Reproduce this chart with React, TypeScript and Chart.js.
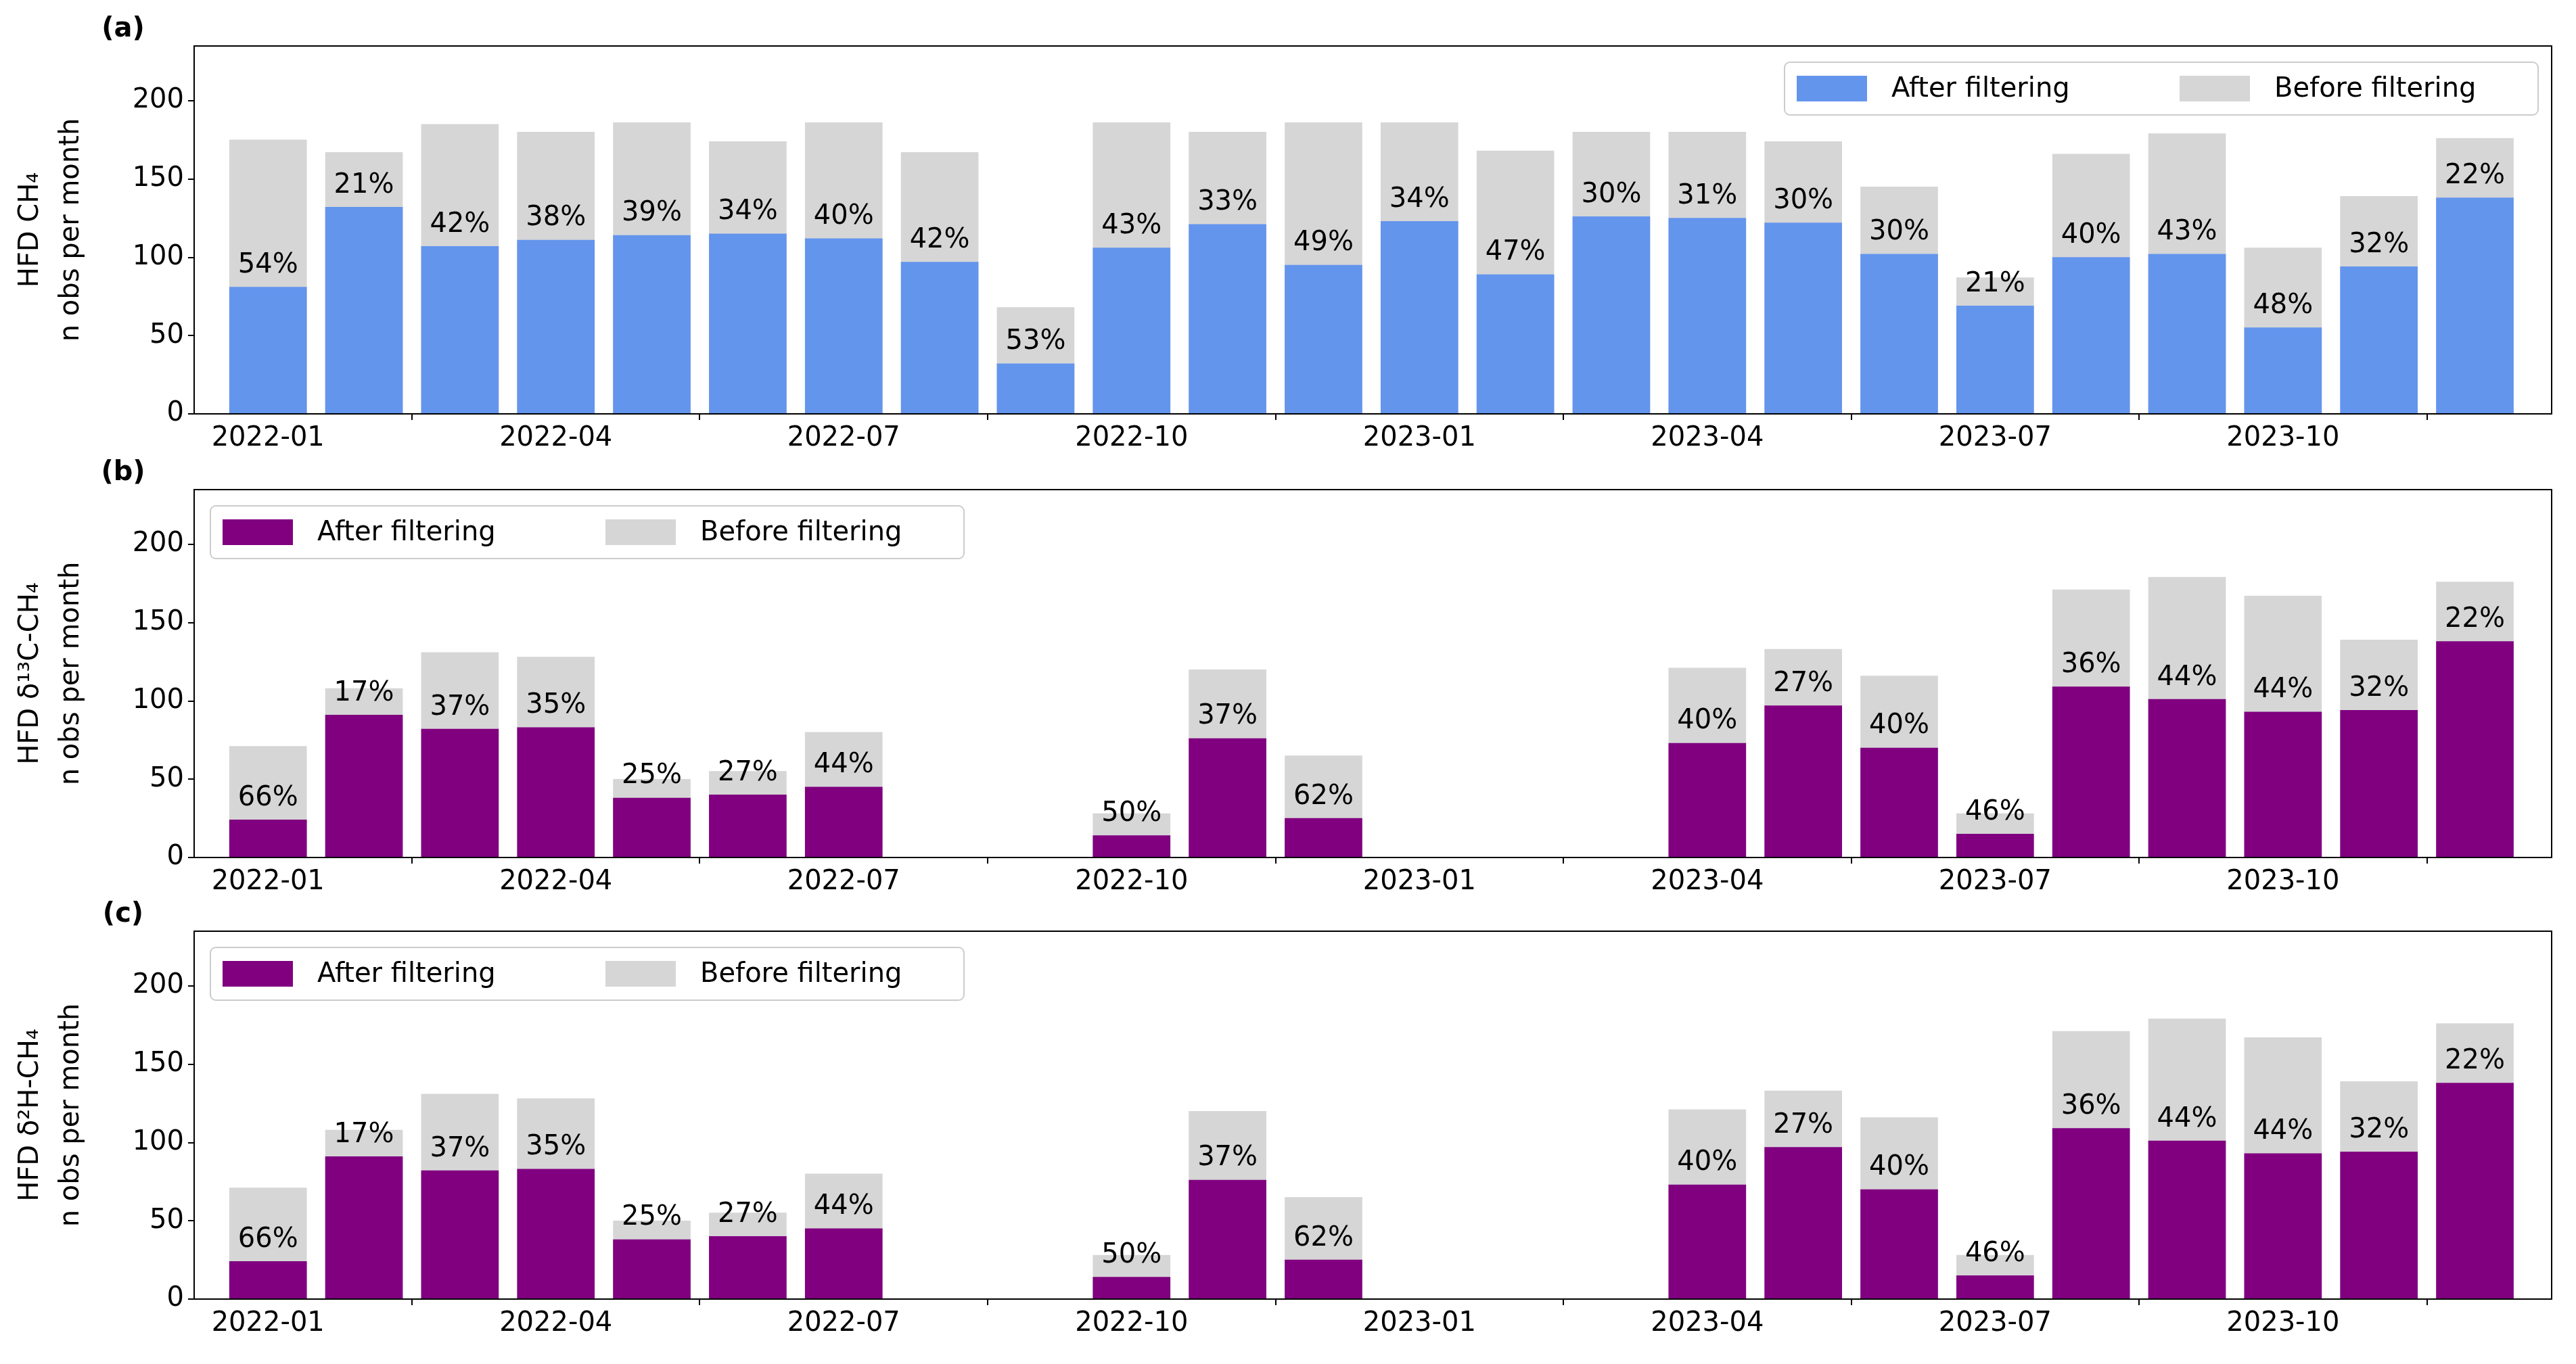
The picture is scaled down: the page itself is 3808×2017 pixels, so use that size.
import React, { useEffect, useRef } from "react";
import { Chart, registerables } from "chart.js";
Chart.register(...registerables);

const months = ["2022-01","2022-02","2022-03","2022-04","2022-05","2022-06","2022-07","2022-08","2022-09","2022-10","2022-11","2022-12","2023-01","2023-02","2023-03","2023-04","2023-05","2023-06","2023-07","2023-08","2023-09","2023-10","2023-11","2023-12"];
const tickIdx = [0, 3, 6, 9, 12, 15, 18, 21];

const beforeA = [175,167,185,180,186,174,186,167,68,186,180,186,186,168,180,180,174,145,87,166,179,106,139,176];
const afterA = [81,132,107,111,114,115,112,97,32,106,121,95,123,89,126,125,122,102,69,100,102,55,94,138];
const pctA = [54,21,42,38,39,34,40,42,53,43,33,49,34,47,30,31,30,30,21,40,43,48,32,22];

const beforeB = [71,108,131,128,50,55,80,0,0,28,120,65,0,0,0,121,133,116,28,171,179,167,139,176];
const afterB = [24,91,82,83,38,40,45,0,0,14,76,25,0,0,0,73,97,70,15,109,101,93,94,138];
const pctB = [66,17,37,35,25,27,44,null,null,50,37,62,null,null,null,40,27,40,46,36,44,44,32,22];

const beforeC = beforeB;
const afterC = afterB;
const pctC = pctB;

const FONT = "DejaVu Sans";
const GRAY = "#d6d6d6";

type Panel = {
  label: string; title: string[]; before: number[]; after: (number)[]; pct: (number | null)[];
  color: string; legendRight: boolean; top: number;
};

const panels: Panel[] = [
  { label: "(a)", title: ["HFD CH₄", "n obs per month"], before: beforeA, after: afterA, pct: pctA, color: "#6495ED", legendRight: true, top: 0 },
  { label: "(b)", title: ["HFD δ¹³C-CH₄", "n obs per month"], before: beforeB, after: afterB, pct: pctB, color: "#800080", legendRight: false, top: 656 },
  { label: "(c)", title: ["HFD δ²H-CH₄", "n obs per month"], before: beforeC, after: afterC, pct: pctC, color: "#800080", legendRight: false, top: 1309 },
];

function PanelChart({ p }: { p: Panel }) {
  const ref = useRef<HTMLCanvasElement>(null);
  useEffect(() => {
    const deco = {
      id: "deco",
      afterDatasetsDraw(chart: any) {
        const ctx = chart.ctx;
        const a = chart.chartArea;
        const xs = chart.scales.x, ys = chart.scales.y;
        ctx.save();
        ctx.fillStyle = "#000";
        ctx.font = `40px "${FONT}"`;
        ctx.textAlign = "center";
        ctx.textBaseline = "bottom";
        p.pct.forEach((v, i) => {
          if (v == null) return;
          ctx.fillText(v + "%", xs.getPixelForValue(i), ys.getPixelForValue(p.after[i]) - 12);
        });
        ctx.strokeStyle = "#000";
        ctx.lineWidth = 2;
        ctx.strokeRect(a.left, a.top, a.right - a.left, a.bottom - a.top);
        // panel label
        ctx.font = `bold 40px "${FONT}"`;
        ctx.textAlign = "center";
        ctx.textBaseline = "middle";
        ctx.fillText(p.label, 182, 44);
        // legend
        const w = 1114, h = 78;
        const bx = p.legendRight ? a.right - 20 - w : a.left + 24;
        const by = a.top + 24;
        ctx.fillStyle = "rgba(255,255,255,0.8)";
        ctx.strokeStyle = "#cccccc";
        ctx.lineWidth = 2;
        ctx.beginPath();
        (ctx as any).roundRect(bx, by, w, h, 8);
        ctx.fill();
        ctx.stroke();
        ctx.font = `40px "${FONT}"`;
        ctx.textAlign = "left";
        ctx.fillStyle = p.color;
        ctx.fillRect(bx + 18, by + 20, 104, 38);
        ctx.fillStyle = GRAY;
        ctx.fillRect(bx + 584, by + 20, 104, 38);
        ctx.fillStyle = "#000";
        ctx.fillText("After filtering", bx + 158, by + h / 2 + 2);
        ctx.fillText("Before filtering", bx + 724, by + h / 2 + 2);
        ctx.restore();
      },
    };
    const chart = new Chart(ref.current!, {
      type: "bar",
      data: {
        datasets: [
          { label: "After filtering", data: p.after.map((y, i) => ({ x: i, y })), backgroundColor: p.color, order: 0, barThickness: 114 } as any,
          { label: "Before filtering", data: p.before.map((y, i) => ({ x: i, y })), backgroundColor: GRAY, order: 1, barThickness: 114 } as any,
        ],
      },
      options: {
        responsive: false,
        animation: false,
        devicePixelRatio: 1,
        layout: { padding: { top: 68, left: 14, right: 36, bottom: 0 } },
        plugins: { legend: { display: false }, tooltip: { enabled: false } },
        datasets: { bar: { grouped: false } as any },
        scales: {
          x: {
            type: "linear", min: -0.77, max: 23.8, offset: false,
            afterBuildTicks: (s: any) => { s.ticks = tickIdx.map((v) => ({ value: v })); },
            afterFit: (s: any) => { s.height = 60; },
            ticks: { font: { family: FONT, size: 40 }, color: "#000", maxRotation: 0, autoSkip: false, padding: 4,
              callback: (v: any) => months[v as number] ?? "" },
            grid: { drawOnChartArea: false, tickLength: 9, color: "#000", lineWidth: 2 },
            border: { display: false },
          },
          y: {
            min: 0, max: 235,
            afterBuildTicks: (s: any) => { s.ticks = [0, 50, 100, 150, 200].map((v) => ({ value: v })); },
            afterFit: (s: any) => { s.width = 273; },
            ticks: { font: { family: FONT, size: 40 }, color: "#000", padding: 6 },
            grid: { drawOnChartArea: false, tickLength: 9, color: "#000", lineWidth: 2 },
            border: { display: false },
            title: { display: true, text: p.title, font: { family: FONT, size: 40, lineHeight: 1.5 }, color: "#000", padding: 2 },
          },
        },
      },
      plugins: [deco],
    } as any);
    return () => chart.destroy();
  }, []);
  return <canvas ref={ref} width={3808} height={672} style={{ position: "absolute", left: 0, top: p.top, width: 3808, height: 672 }} />;
}

export default function App() {
  return (
    <div style={{ position: "absolute", left: 0, top: 0, width: 3808, height: 2017, background: "#fff" }}>
      {panels.map((p) => <PanelChart key={p.label} p={p} />)}
    </div>
  );
}
